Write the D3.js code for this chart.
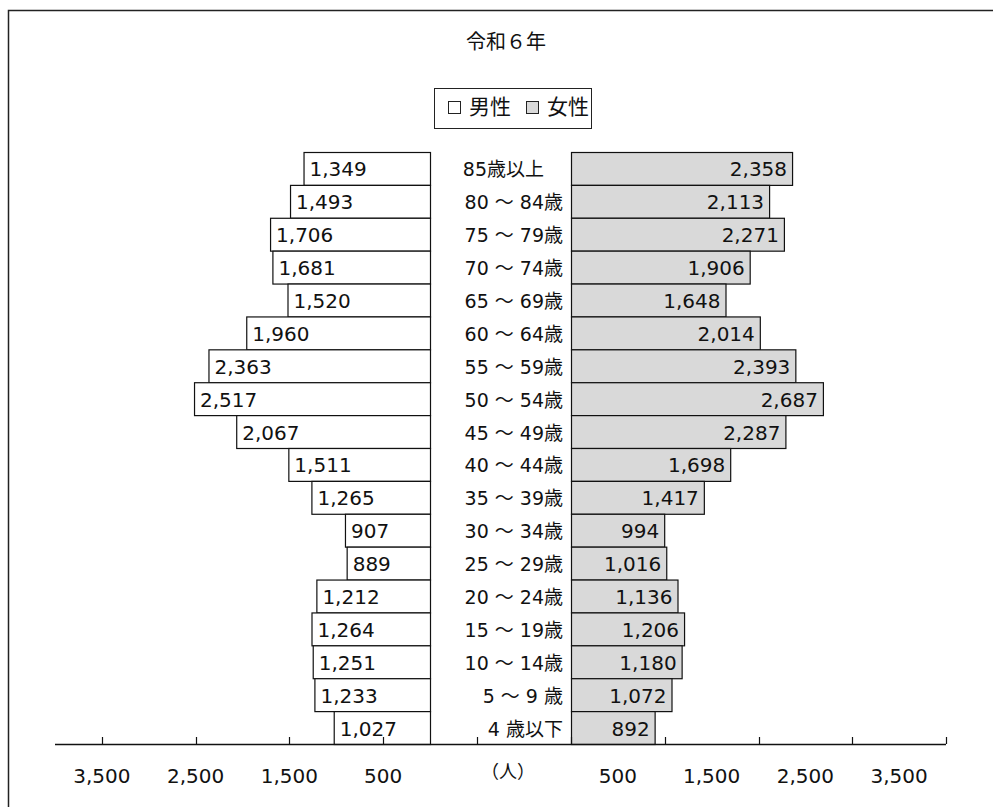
<!DOCTYPE html>
<html>
<head>
<meta charset="utf-8">
<script src="https://cdn.jsdelivr.net/npm/d3@7"></script>
<style>
  body { margin: 0; background: #fff; }
  svg text { font-family: "DejaVu Sans", "Noto Sans CJK JP", sans-serif; fill: #111; }
</style>
</head>
<body>
<svg id="chart" width="993" height="807"></svg>
<script>
const title = "令和６年";
const ageGroups = [
  "85歳以上　", "80 ～ 84歳", "75 ～ 79歳", "70 ～ 74歳", "65 ～ 69歳", "60 ～ 64歳",
  "55 ～ 59歳", "50 ～ 54歳", "45 ～ 49歳", "40 ～ 44歳", "35 ～ 39歳", "30 ～ 34歳",
  "25 ～ 29歳", "20 ～ 24歳", "15 ～ 19歳", "10 ～ 14歳", "5 ～ 9 歳", "4 歳以下"
];
const male = [1349, 1493, 1706, 1681, 1520, 1960, 2363, 2517, 2067, 1511, 1265, 907, 889, 1212, 1264, 1251, 1233, 1027];
const female = [2358, 2113, 2271, 1906, 1648, 2014, 2393, 2687, 2287, 1698, 1417, 994, 1016, 1136, 1206, 1180, 1072, 892];
const maleTicks = [3500, 2500, 1500, 500, -500];
const maleTickLabels = [3500, 2500, 1500, 500];
const femaleTicks = [0, 1000, 2000, 3000, 4000];
const femaleTickLabels = [500, 1500, 2500, 3500];
const unitLabel = "（人）";

const svg = d3.select("#chart");
const fmt = d3.format(",");

const xMale = d3.scaleLinear().domain([0, 4000]).range([430, 55]);
const xFemale = d3.scaleLinear().domain([0, 4000]).range([571, 946]);
const y = d3.scaleBand().domain(ageGroups).range([152, 744]).padding(0);
const axisY = 744;

// frame
svg.append("path")
  .attr("d", "M8.5,807V10.5H993")
  .attr("fill", "none")
  .attr("stroke", "#222")
  .attr("stroke-width", 1.5);

// title
svg.append("text")
  .attr("x", 506).attr("y", 49)
  .attr("text-anchor", "middle")
  .attr("font-size", 20)
  .text(title);

// legend
const legend = svg.append("g");
legend.append("rect")
  .attr("x", 434.5).attr("y", 88.5).attr("width", 157).attr("height", 40)
  .attr("fill", "#fff").attr("stroke", "#222");
[["男性", "#fff", 448], ["女性", "#d9d9d9", 526]].forEach(([label, fill, lx]) => {
  legend.append("rect")
    .attr("x", lx + 0.5).attr("y", 101.5).attr("width", 12).attr("height", 12)
    .attr("fill", fill).attr("stroke", "#222");
  legend.append("text")
    .attr("x", lx + 21).attr("y", 114)
    .attr("font-size", 21)
    .text(label);
});

// male bars
svg.append("g").selectAll("rect")
  .data(male)
  .join("rect")
  .attr("x", d => xMale(d) + 0.5)
  .attr("y", (d, i) => y(ageGroups[i]) + 0.5)
  .attr("width", d => xMale(0) - xMale(d))
  .attr("height", y.bandwidth())
  .attr("fill", "#fff")
  .attr("stroke", "#111")
  .attr("stroke-width", 1.2);

// female bars
svg.append("g").selectAll("rect")
  .data(female)
  .join("rect")
  .attr("x", xFemale(0) + 0.5)
  .attr("y", (d, i) => y(ageGroups[i]) + 0.5)
  .attr("width", d => xFemale(d) - xFemale(0))
  .attr("height", y.bandwidth())
  .attr("fill", "#d9d9d9")
  .attr("stroke", "#111")
  .attr("stroke-width", 1.2);

// value labels
svg.append("g").selectAll("text")
  .data(male)
  .join("text")
  .attr("x", d => xMale(d) + 6)
  .attr("y", (d, i) => y(ageGroups[i]) + y.bandwidth() / 2 + 8)
  .attr("font-size", 20)
  .text(d => fmt(d));

svg.append("g").selectAll("text")
  .data(female)
  .join("text")
  .attr("x", d => xFemale(d) - 5)
  .attr("y", (d, i) => y(ageGroups[i]) + y.bandwidth() / 2 + 8)
  .attr("text-anchor", "end")
  .attr("font-size", 20)
  .text(d => fmt(d));

// category labels
svg.append("g").selectAll("text")
  .data(ageGroups)
  .join("text")
  .attr("x", 563)
  .attr("y", d => y(d) + y.bandwidth() / 2 + 8)
  .attr("text-anchor", "end")
  .attr("font-size", 19)
  .style("white-space", "pre")
  .text(d => d);

// axis line
svg.append("line")
  .attr("x1", xMale(4000)).attr("x2", xFemale(4000))
  .attr("y1", axisY + 0.5).attr("y2", axisY + 0.5)
  .attr("stroke", "#111").attr("stroke-width", 1.5);

// ticks
const tickG = svg.append("g").attr("stroke", "#111").attr("stroke-width", 1.2);
tickG.selectAll(".tm").data(maleTicks).join("line")
  .attr("x1", d => Math.round(xMale(d)) + 0.5).attr("x2", d => Math.round(xMale(d)) + 0.5)
  .attr("y1", axisY - 7).attr("y2", axisY);
tickG.selectAll(".tf").data(femaleTicks).join("line")
  .attr("x1", d => Math.round(xFemale(d)) + 0.5).attr("x2", d => Math.round(xFemale(d)) + 0.5)
  .attr("y1", axisY - 7).attr("y2", axisY);

// tick labels
svg.append("g").selectAll("text")
  .data(maleTickLabels)
  .join("text")
  .attr("x", d => xMale(d))
  .attr("y", 783)
  .attr("text-anchor", "middle")
  .attr("font-size", 20)
  .text(d => fmt(d));

svg.append("g").selectAll("text")
  .data(femaleTickLabels)
  .join("text")
  .attr("x", d => xFemale(d))
  .attr("y", 783)
  .attr("text-anchor", "middle")
  .attr("font-size", 20)
  .text(d => fmt(d));

svg.append("text")
  .attr("x", 508).attr("y", 778)
  .attr("text-anchor", "middle")
  .attr("font-size", 18)
  .text(unitLabel);
</script>
</body>
</html>
